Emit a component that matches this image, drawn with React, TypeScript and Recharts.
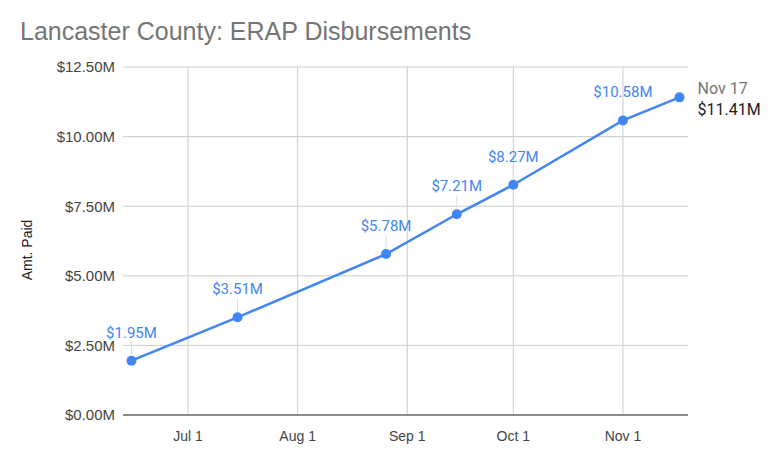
import { LineChart, Line, XAxis, YAxis, CartesianGrid, LabelList } from "recharts";

// ERAP disbursement snapshots (2021), amounts in $M
const dates = ["2021-06-15", "2021-07-15", "2021-08-26", "2021-09-15", "2021-10-01", "2021-11-01", "2021-11-17"];
const amounts = [1.95, 3.51, 5.78, 7.21, 8.27, 10.58, 11.41];
const xTicks = ["2021-07-01", "2021-08-01", "2021-09-01", "2021-10-01", "2021-11-01"];
const yTicks = [0, 2.5, 5, 7.5, 10, 12.5];

const DAY = 86400000;
const toMs = (s: string) => new Date(s + "T00:00:00Z").getTime();
const MONTHS = ["Jan", "Feb", "Mar", "Apr", "May", "Jun", "Jul", "Aug", "Sep", "Oct", "Nov", "Dec"];
const fmtDate = (ms: number) => {
  const d = new Date(ms);
  return `${MONTHS[d.getUTCMonth()]} ${d.getUTCDate()}`;
};
const fmtMoney = (v: number) => `$${v.toFixed(2)}M`;

const data = dates.map((d, i) => ({ t: toMs(d), amt: amounts[i] }));
const domainX = [toMs("2021-06-12") + 0.6 * DAY, toMs("2021-11-19") + 0.4 * DAY];

const BLUE = "#4285f4";

// vertical grid only at the month ticks (no lines at plot edges)
const gridX = ({ offset }: any) =>
  xTicks.map((t) => offset.left + ((toMs(t) - domainX[0]) / (domainX[1] - domainX[0])) * offset.width);

const renderLabel = (props: any) => {
  const { x, y, value, index } = props;
  if (index === data.length - 1) {
    return (
      <g fontFamily="Roboto" fontSize={16}>
        <text x={x + 18} y={y - 3} fill="#757575">
          {fmtDate(data[index].t)}
        </text>
        <text x={x + 18} y={y + 18} fill="#212121">
          {fmtMoney(value)}
        </text>
      </g>
    );
  }
  return (
    <g>
      <line x1={x} x2={x} y1={y - 19} y2={y - 6} stroke="#ddd" strokeWidth={1} />
      <text x={x} y={y - 23} textAnchor="middle" fontSize={15} fill={BLUE} fontFamily="Roboto">
        {fmtMoney(value)}
      </text>
    </g>
  );
};

export default function App() {
  return (
    <div style={{ position: "relative", width: 784, height: 462, background: "#fff", fontFamily: "'Liberation Sans', Arial, sans-serif" }}>
      <style>{`body{margin:0}`}</style>
      <div style={{ position: "absolute", left: 20, top: 17, fontSize: 25, color: "#757575" }}>
        Lancaster County: ERAP Disbursements
      </div>
      <div
        style={{
          position: "absolute",
          left: 27,
          top: 250,
          transform: "translate(-50%, -50%) rotate(-90deg)",
          fontSize: 14,
          color: "#222",
          whiteSpace: "nowrap",
        }}
      >
        Amt. Paid
      </div>
      <LineChart width={784} height={462} data={data} margin={{ top: 67, right: 96, bottom: 17, left: 0 }}>
        <CartesianGrid stroke="#ccc" verticalCoordinatesGenerator={gridX} />
        <XAxis
          dataKey="t"
          type="number"
          domain={domainX}
          ticks={xTicks.map(toMs)}
          tickFormatter={fmtDate}
          tickLine={false}
          tickMargin={10}
          axisLine={{ stroke: "#333" }}
          tick={{ fontSize: 14, fill: "#444" }}
          allowDataOverflow
        />
        <YAxis
          width={123}
          domain={[0, 12.5]}
          ticks={yTicks}
          tickFormatter={fmtMoney}
          axisLine={false}
          tickLine={false}
          tick={{ fontSize: 15, fill: "#444" }}
        />
        <Line
          dataKey="amt"
          stroke={BLUE}
          strokeWidth={2.5}
          dot={{ r: 5, fill: BLUE, stroke: "none" }}
          isAnimationActive={false}
        >
          <LabelList dataKey="amt" content={renderLabel} />
        </Line>
      </LineChart>
    </div>
  );
}
